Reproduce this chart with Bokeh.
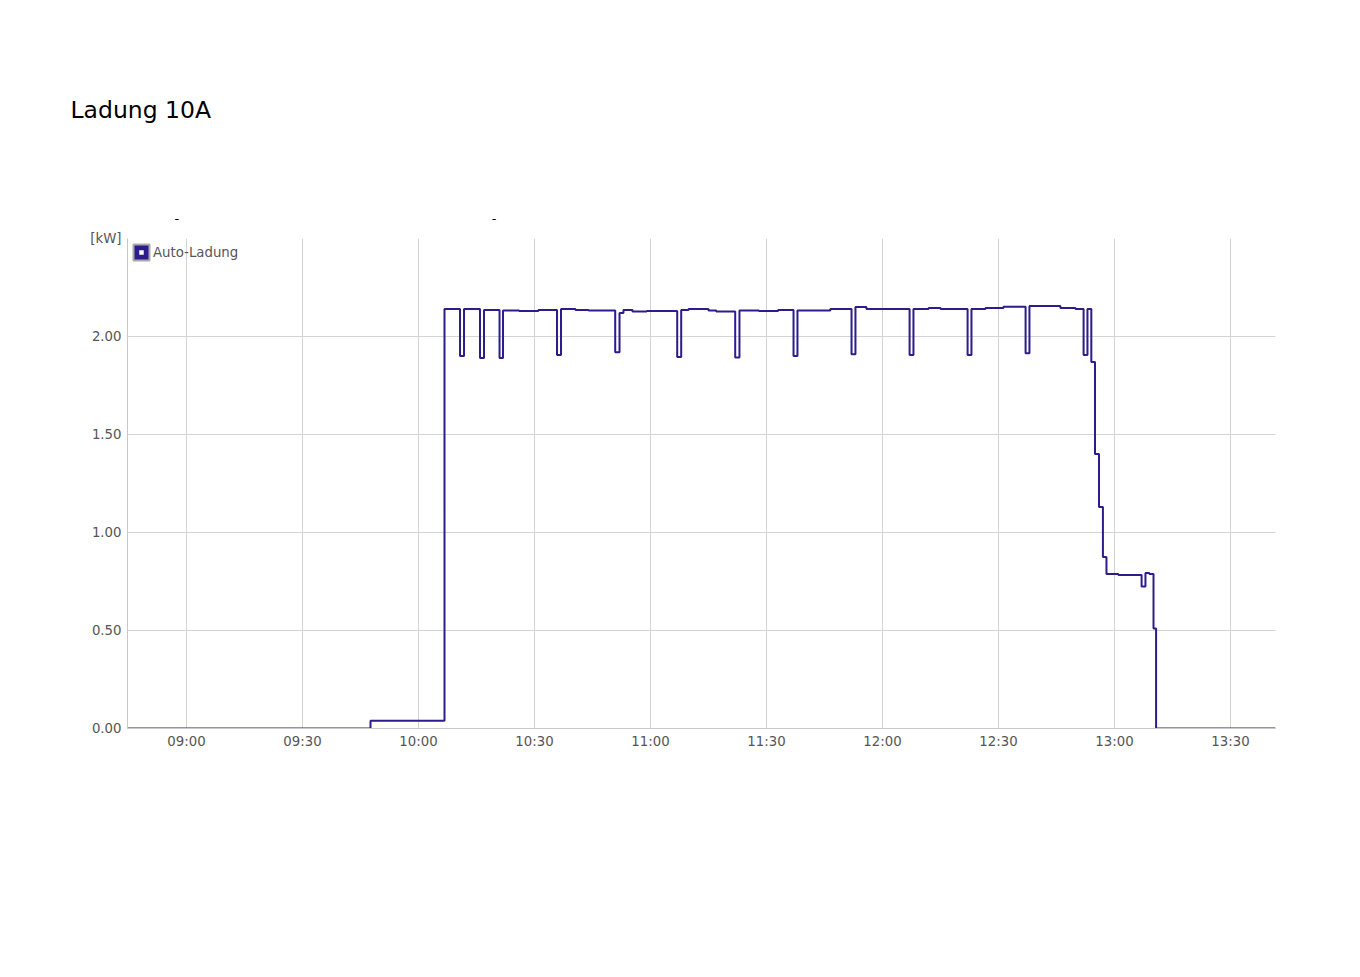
import pandas as pd
from bokeh.plotting import figure
from bokeh.models import (Range1d, FixedTicker, DatetimeTickFormatter, Title,
                          Legend, LegendItem, ColumnDataSource)
from bokeh.embed import file_html
from bokeh.resources import INLINE

# ---- data ----
title_text = "Ladung 10A"
series_name = "Auto-Ladung"
unit_label = "[kW]"
day = "2023-05-01"
times = ["08:44:40", "09:47:35", "10:06:43", "10:10:44", "10:11:46", "10:15:54", "10:16:56",
         "10:20:57", "10:21:51", "10:26:00", "10:31:00", "10:35:49", "10:36:51", "10:40:36",
         "10:44:00", "10:50:52", "10:51:59", "10:53:00", "10:55:20", "10:59:00", "11:06:54",
         "11:07:56", "11:09:50", "11:15:00", "11:17:00", "11:21:54", "11:23:00", "11:28:00",
         "11:33:00", "11:36:59", "11:38:00", "11:46:30", "11:51:59", "11:53:00", "11:55:50",
         "12:07:00", "12:08:00", "12:11:54", "12:15:00", "12:22:00", "12:23:00", "12:26:38",
         "12:31:17", "12:37:00", "12:38:00", "12:46:00", "12:49:55", "12:52:00", "12:53:00",
         "12:54:00", "12:54:57", "12:55:59", "12:57:00", "12:57:55", "13:01:00", "13:07:00",
         "13:08:00", "13:09:00", "13:10:05", "13:10:45", "13:41:40"]
values = [0.0, 0.04, 2.14, 1.90, 2.14, 1.89, 2.135,
          1.89, 2.133, 2.13, 2.135, 1.905, 2.14, 2.135,
          2.133, 1.92, 2.12, 2.135, 2.128, 2.13, 1.895,
          2.135, 2.14, 2.133, 2.128, 1.893, 2.133, 2.13,
          2.135, 1.90, 2.133, 2.14, 1.91, 2.15, 2.14,
          1.905, 2.14, 2.145, 2.14, 1.905, 2.14, 2.145,
          2.152, 1.915, 2.155, 2.145, 2.14, 1.905, 2.14,
          1.87, 1.40, 1.13, 0.875, 0.788, 0.783, 0.725,
          0.793, 0.788, 0.51, 0.0, 0.0]
x_start, x_end = "08:44:44", "13:41:38"
x_ticks = ["09:00", "09:30", "10:00", "10:30", "11:00", "11:30", "12:00", "12:30", "13:00", "13:30"]
y_ticks = [0.0, 0.5, 1.0, 1.5, 2.0, 2.5]
y_tick_labels = ["0.00", "0.50", "1.00", "1.50", "2.00", unit_label]
marks_text = "-" + "\u00a0" * 75 + "\u2009" + "-"

LINE = "#2c1c8c"
GRID = "#d4d4d4"
TXT = "#555555"
FONT = "DejaVu Sans"
LBL = "13.3px"

def ts(t):
    return pd.Timestamp(f"{day} {t}")

def ms(t):
    return ts(t).value / 1e6

src = ColumnDataSource(dict(x=[ts(t) for t in times], y=values))

p = figure(x_axis_type="datetime", frame_width=1148, frame_height=490,
           min_border_left=127, min_border_right=77, min_border_top=238, min_border_bottom=232,
           output_backend="svg", toolbar_location=None,
           x_range=Range1d(ms(x_start), ms(x_end)), y_range=Range1d(0, 2.5))
p.outline_line_color = None
p.background_fill_color = "white"

# small marks row (closest to frame) and main title (outermost)
p.add_layout(Title(text=marks_text, align="left", offset=47, standoff=26,
                   text_font=FONT, text_font_size="13px", text_font_style="normal",
                   text_color="black"), "above")
p.title = Title(text=title_text, align="left", offset=-57, standoff=144,
                text_font=FONT, text_font_size="23.5px", text_font_style="normal",
                text_color="black")

line_r = p.step("x", "y", source=src, mode="after", line_color=LINE, line_width=2)

# axes
p.xaxis.ticker = FixedTicker(ticks=[ms(t) for t in x_ticks])
p.xaxis.formatter = DatetimeTickFormatter(minutes="%H:%M", hourmin="%H:%M", hours="%H:%M",
                                          minsec="%H:%M", days="%H:%M")
p.yaxis.ticker = FixedTicker(ticks=y_ticks)
p.yaxis.major_label_overrides = {v: l for v, l in zip(y_ticks, y_tick_labels)}
for ax in (p.xaxis, p.yaxis):
    ax.axis_line_color = "#c8c8c8"
    ax.major_tick_line_color = None
    ax.minor_tick_line_color = None
    ax.major_tick_out = 0
    ax.major_tick_in = 0
    ax.minor_tick_out = 0
    ax.major_label_text_font = FONT
    ax.major_label_text_font_size = LBL
    ax.major_label_text_color = TXT
p.yaxis.major_label_standoff = 6
p.xaxis.major_label_standoff = 5
p.xgrid.grid_line_color = GRID
p.ygrid.grid_line_color = GRID
p.xgrid.ticker = p.xaxis.ticker
p.ygrid.ticker = p.yaxis.ticker

# legend glyph
nan_src = ColumnDataSource(dict(x=[float("nan")], y=[float("nan")]))
box = p.quad(left="x", right="x", top="y", bottom="y", source=nan_src,
             fill_color=LINE, line_color="#aaaaaa", line_width=2)
dot = p.scatter("x", "y", source=nan_src, marker="square", size=4,
                fill_color="white", line_color=LINE, line_width=3.5)
legend = Legend(items=[LegendItem(label=series_name, renderers=[box, dot])],
                location="top_left", margin=4, padding=1, spacing=0,
                glyph_width=20, glyph_height=20, label_standoff=2,
                label_text_font=FONT, label_text_font_size=LBL, label_text_color=TXT,
                background_fill_alpha=0, border_line_color=None)
p.add_layout(legend, "center")

open("out.html", "w").write(file_html(p, INLINE))
